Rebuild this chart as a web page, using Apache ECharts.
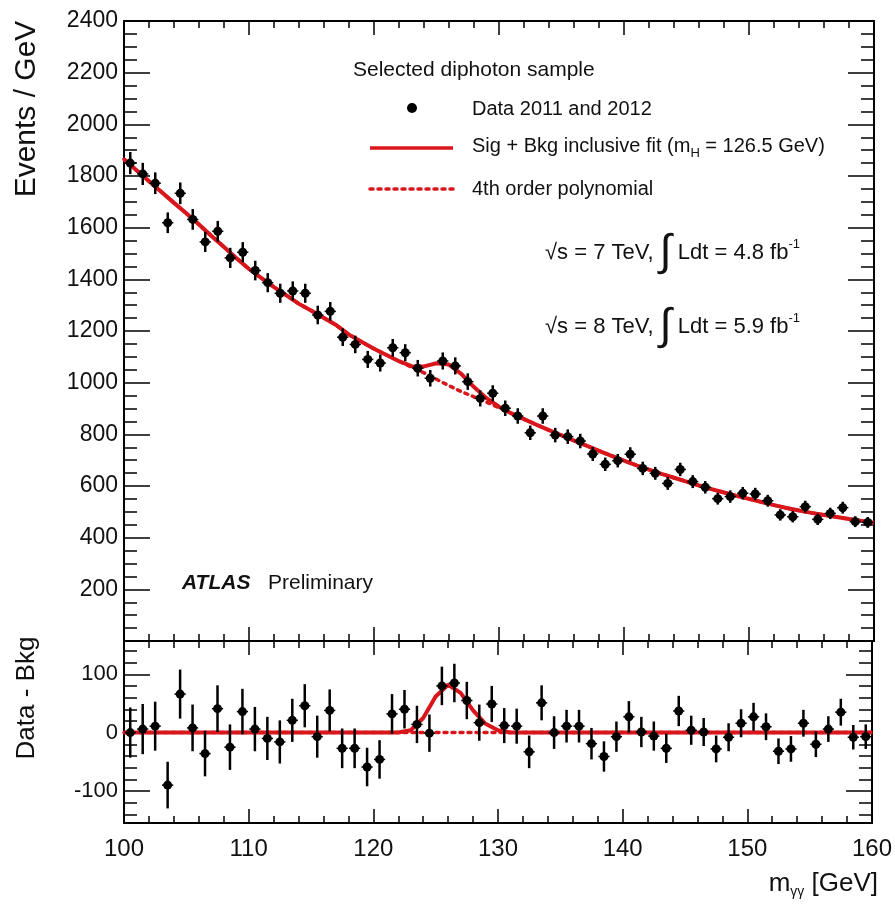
<!DOCTYPE html>
<html><head><meta charset="utf-8">
<script src="https://cdn.jsdelivr.net/npm/echarts@6/dist/echarts.min.js"></script>
<style>html,body{margin:0;padding:0;background:#fff}#c{width:895px;height:913px}</style>
</head><body><div id="c"></div><script>
// ---- data ----
const massCenters = [100.5,101.5,102.5,103.5,104.5,105.5,106.5,107.5,108.5,109.5,110.5,111.5,112.5,113.5,114.5,115.5,116.5,117.5,118.5,119.5,120.5,121.5,122.5,123.5,124.5,125.5,126.5,127.5,128.5,129.5,130.5,131.5,132.5,133.5,134.5,135.5,136.5,137.5,138.5,139.5,140.5,141.5,142.5,143.5,144.5,145.5,146.5,147.5,148.5,149.5,150.5,151.5,152.5,153.5,154.5,155.5,156.5,157.5,158.5,159.5];
const eventsData = [1850,1808,1772,1619,1733,1632,1545,1586,1483,1505,1434,1387,1346,1355,1346,1262,1276,1176,1148,1090,1076,1135,1116,1056,1017,1084,1065,1004,939,959,901,871,806,871,797,791,774,724,684,698,723,668,649,610,664,617,595,551,559,572,569,543,488,481,520,471,494,516,462,459];
const eventsErr = [43,43,42,40,42,40,39,40,39,39,38,37,37,37,37,36,36,34,34,33,33,34,33,32,32,33,33,32,31,31,30,30,28,30,28,28,28,27,26,26,27,26,25,25,26,25,24,23,24,24,24,23,22,22,23,22,22,23,21,21];
const residData = [0,6,11,-90,66,8,-36,41,-25,36,6,-10,-16,21,46,-7,38,-27,-27,-59,-46,32,40,14,-1,80,85,55,17,49,12,11,-33,51,0,11,11,-19,-41,-7,27,1,-6,-27,37,4,1,-28,-8,16,27,10,-32,-28,16,-20,6,35,-8,-7];
const fitMass = [100,101,102,103,104,105,106,107,108,109,110,111,112,113,114,115,116,117,118,119,120,121,122,123,124,125,126,127,128,129,130,131,132,133,134,135,136,137,138,139,140,141,142,143,144,145,146,147,148,149,150,151,152,153,154,155,156,157,158,159,160];
const bkgFit = [1865,1822,1780,1738,1696,1655,1612,1568,1525,1482,1440,1405,1370,1338,1305,1278,1250,1222,1186,1158,1131,1107,1083,1060,1038,1013,988,965,945,925,903,881,859,837,816,796,776,756,736,717,698,680,663,647,632,617,602,588,575,562,550,538,526,515,505,496,488,480,472,465,458];
const sigFit = [0,0,0,0,0,0,0,0,0,0,0,0,0,0,0,0,0,0,0,0,0,0,0,4,25,62,82,68,38,15,4,0,0,0,0,0,0,0,0,0,0,0,0,0,0,0,0,0,0,0,0,0,0,0,0,0,0,0,0,0,0];
const xTickLabels = [100,110,120,130,140,150,160];
const yTopTickLabels = [200,400,600,800,1000,1200,1400,1600,1800,2000,2200,2400];
const yBotTickLabels = [-100,0,100];
const yBotMinorTicks = [-140,-120,-80,-60,-40,-20,20,40,60,80,120,140];

const RED = '#d8161c';
const SANS = '"Liberation Sans",Arial,sans-serif';
const plain = v => String(v);

function errPoint(params, api) {
  const x = api.value(0), y = api.value(1), e = api.value(2);
  const c = api.coord([x, y]);
  const t = api.coord([x, y + e]);
  const b = api.coord([x, y - e]);
  const l = api.coord([x - 0.45, y]);
  const r = api.coord([x + 0.45, y]);
  return {type: 'group', children: [
    {type: 'line', shape: {x1: c[0], y1: t[1], x2: c[0], y2: b[1]}, style: {stroke: '#000', lineWidth: 2.5}},
    {type: 'line', shape: {x1: l[0], y1: c[1], x2: r[0], y2: c[1]}, style: {stroke: '#000', lineWidth: 1.5}},
    {type: 'circle', shape: {cx: c[0], cy: c[1], r: 4.5}, style: {fill: '#000'}}
  ]};
}

const axLine = {show: true, onZero: false, lineStyle: {color: '#000', width: 2}};
function xAx(grid, pos, labels) {
  return {type: 'value', gridIndex: grid, position: pos, min: 100, max: 160, interval: 10,
    axisLine: axLine, splitLine: {show: false},
    axisTick: {show: true, inside: true, length: 14, lineStyle: {color: '#000', width: 1.5}},
    minorTick: {show: true, splitNumber: 5, length: 7, lineStyle: {color: '#000', width: 1.5}},
    axisLabel: labels ? {show: true, customValues: xTickLabels, formatter: plain, margin: 14, color: '#111', fontSize: 24, fontFamily: SANS} : {show: false}};
}

const chart = echarts.init(document.getElementById('c'), null, {renderer: 'canvas'});
const option = {
  animation: false,
  backgroundColor: '#fff',
  grid: [
    {left: 124, top: 21, width: 750, height: 620},
    {left: 124, top: 641, width: 750, height: 182}
  ],
  xAxis: [xAx(0, 'bottom', false), xAx(0, 'top', false), xAx(1, 'bottom', true), xAx(1, 'top', false)],
  yAxis: [
    {type: 'value', gridIndex: 0, position: 'left', min: 0, max: 2400, interval: 200,
      axisLine: axLine, splitLine: {show: false},
      axisTick: {show: true, inside: true, length: 26, lineStyle: {color: '#000', width: 1.5}},
      minorTick: {show: true, splitNumber: 4, length: 13, lineStyle: {color: '#000', width: 1.5}},
      axisLabel: {show: true, customValues: yTopTickLabels, formatter: plain, margin: 6, color: '#111', fontSize: 23, fontFamily: SANS}},
    {type: 'value', gridIndex: 0, position: 'right', min: 0, max: 2400, interval: 200,
      axisLine: axLine, splitLine: {show: false},
      axisTick: {show: true, inside: true, length: 26, lineStyle: {color: '#000', width: 1.5}},
      minorTick: {show: true, splitNumber: 4, length: 13, lineStyle: {color: '#000', width: 1.5}},
      axisLabel: {show: false}},
    {type: 'value', gridIndex: 1, position: 'left', min: -155, max: 157,
      axisLine: axLine, splitLine: {show: false},
      axisTick: {show: true, inside: true, length: 26, customValues: yBotTickLabels, lineStyle: {color: '#000', width: 1.5}},
      axisLabel: {show: true, customValues: yBotTickLabels, formatter: plain, margin: 6, color: '#111', fontSize: 22, fontFamily: SANS}},
    {type: 'value', gridIndex: 1, position: 'left', min: -155, max: 157,
      axisLine: {show: false}, splitLine: {show: false},
      axisTick: {show: true, inside: true, length: 13, customValues: yBotMinorTicks, lineStyle: {color: '#000', width: 1.5}},
      axisLabel: {show: false}},
    {type: 'value', gridIndex: 1, position: 'right', min: -155, max: 157,
      axisLine: axLine, splitLine: {show: false},
      axisTick: {show: true, inside: true, length: 26, customValues: yBotTickLabels, lineStyle: {color: '#000', width: 1.5}},
      axisLabel: {show: false}},
    {type: 'value', gridIndex: 1, position: 'right', min: -155, max: 157,
      axisLine: {show: false}, splitLine: {show: false},
      axisTick: {show: true, inside: true, length: 13, customValues: yBotMinorTicks, lineStyle: {color: '#000', width: 1.5}},
      axisLabel: {show: false}}
  ],
  series: [
    {name: '4th order polynomial', type: 'line', xAxisIndex: 0, yAxisIndex: 0, symbol: 'none', z: 2,
      data: fitMass.map((m, i) => [m, bkgFit[i]]),
      lineStyle: {color: RED, width: 3.5, type: [3, 5], cap: 'round'}},
    {name: 'Sig + Bkg inclusive fit', type: 'line', xAxisIndex: 0, yAxisIndex: 0, symbol: 'none', z: 3,
      data: fitMass.map((m, i) => [m, bkgFit[i] + sigFit[i]]),
      lineStyle: {color: RED, width: 4}},
    {name: 'Data 2011 and 2012', type: 'custom', xAxisIndex: 0, yAxisIndex: 0, z: 5,
      data: massCenters.map((m, i) => [m, eventsData[i], eventsErr[i]]),
      renderItem: errPoint},
    {name: 'bkg residual', type: 'line', xAxisIndex: 2, yAxisIndex: 2, symbol: 'none', z: 2,
      data: fitMass.map((m, i) => [m, bkgFit[i] - bkgFit[i]]),
      lineStyle: {color: RED, width: 3.5, type: [3, 5], cap: 'round'}},
    {name: 'signal', type: 'line', xAxisIndex: 2, yAxisIndex: 2, symbol: 'none', z: 3,
      data: fitMass.map((m, i) => [m, sigFit[i]]),
      lineStyle: {color: RED, width: 4}},
    {name: 'Data - Bkg', type: 'custom', xAxisIndex: 2, yAxisIndex: 2, z: 5,
      data: massCenters.map((m, i) => [m, residData[i], eventsErr[i]]),
      renderItem: errPoint}
  ],
  graphic: [
    {type: 'text', x: 27, y: 109, rotation: Math.PI / 2, style: {text: 'Events / GeV', font: '30px ' + SANS, fill: '#111', align: 'center', verticalAlign: 'middle'}},
    {type: 'text', x: 27, y: 698, rotation: Math.PI / 2, style: {text: 'Data - Bkg', font: '26px ' + SANS, fill: '#111', align: 'center', verticalAlign: 'middle'}},
    {type: 'text', x: 878, y: 884, style: {text: '{a|m}{s|γγ}{a| [GeV]}', align: 'right', verticalAlign: 'middle', fill: '#111',
      rich: {a: {font: '26px ' + SANS, fill: '#111', lineHeight: 30}, s: {font: '14px ' + SANS, fill: '#111', verticalAlign: 'bottom', lineHeight: 16}}}},
    {type: 'text', x: 353, y: 70, style: {text: 'Selected diphoton sample', font: '21px ' + SANS, fill: '#111', verticalAlign: 'middle'}},
    {type: 'circle', shape: {cx: 412, cy: 108, r: 5}, style: {fill: '#000'}},
    {type: 'text', x: 472, y: 109, style: {text: 'Data 2011 and 2012', font: '20px ' + SANS, fill: '#111', verticalAlign: 'middle'}},
    {type: 'line', shape: {x1: 370, y1: 148, x2: 453, y2: 148}, style: {stroke: RED, lineWidth: 3.5}},
    {type: 'text', x: 472, y: 146, style: {text: '{a|Sig + Bkg inclusive fit (m}{s|H}{a| = 126.5 GeV)}', verticalAlign: 'middle',
      rich: {a: {font: '20px ' + SANS, fill: '#111', lineHeight: 28}, s: {font: '13px ' + SANS, fill: '#111', verticalAlign: 'bottom', lineHeight: 14}}}},
    {type: 'line', shape: {x1: 370, y1: 189, x2: 453, y2: 189}, style: {stroke: RED, lineWidth: 3.5, lineDash: [3, 5], lineCap: 'round'}},
    {type: 'text', x: 472, y: 189, style: {text: '4th order polynomial', font: '20px ' + SANS, fill: '#111', verticalAlign: 'middle'}},
    {type: 'text', x: 545, y: 253, style: {text: '{a|√s = 7 TeV, }{i|∫}{a| Ldt = 4.8 fb}{p|-1}', verticalAlign: 'middle',
      rich: {a: {font: '22px ' + SANS, fill: '#111', lineHeight: 30}, i: {font: '44px ' + SANS, fill: '#111', lineHeight: 30}, p: {font: '13px ' + SANS, fill: '#111', verticalAlign: 'top', lineHeight: 14}}}},
    {type: 'text', x: 545, y: 327, style: {text: '{a|√s = 8 TeV, }{i|∫}{a| Ldt = 5.9 fb}{p|-1}', verticalAlign: 'middle',
      rich: {a: {font: '22px ' + SANS, fill: '#111', lineHeight: 30}, i: {font: '44px ' + SANS, fill: '#111', lineHeight: 30}, p: {font: '13px ' + SANS, fill: '#111', verticalAlign: 'top', lineHeight: 14}}}},
    {type: 'text', x: 182, y: 583, style: {text: 'ATLAS', font: 'italic bold 21px ' + SANS, fill: '#111', verticalAlign: 'middle'}},
    {type: 'text', x: 268, y: 583, style: {text: 'Preliminary', font: '21px ' + SANS, fill: '#111', verticalAlign: 'middle'}}
  ]
};
chart.setOption(option);
</script></body></html>
